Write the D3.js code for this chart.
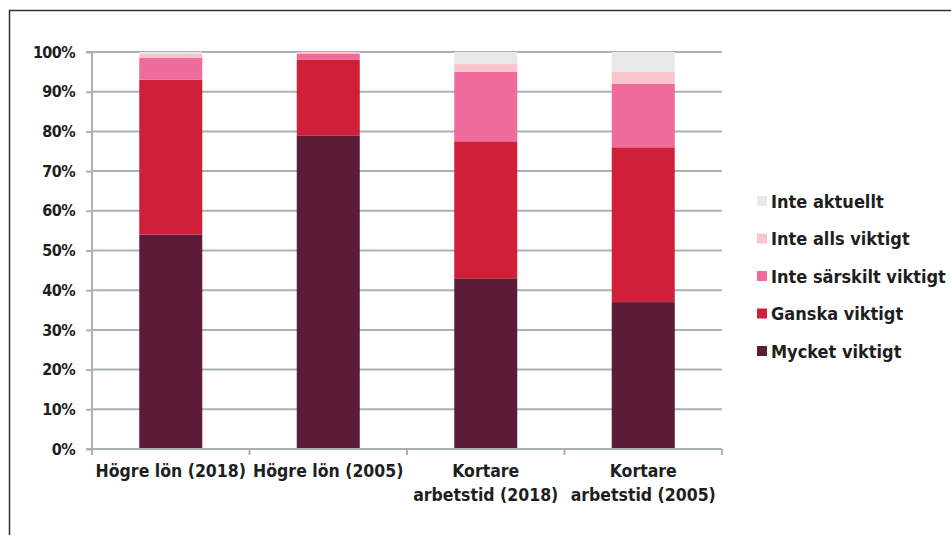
<!DOCTYPE html>
<html><head><meta charset="utf-8">
<script src="https://cdn.jsdelivr.net/npm/d3@7"></script>
<style>
body{margin:0;background:#fff;}
svg{display:block;}
text{font-family:"DejaVu Sans Condensed","DejaVu Sans",sans-serif;fill:#1e1e1e;}
</style></head><body>
<svg id="c" width="951" height="535"></svg>
<script>
const categories = [["Högre lön (2018)"],["Högre lön (2005)"],["Kortare","arbetstid (2018)"],["Kortare","arbetstid (2005)"]];
const seriesNames = ["Mycket viktigt","Ganska viktigt","Inte särskilt viktigt","Inte alls viktigt","Inte aktuellt"];
const mycket = [54, 79, 43, 37];
const ganska = [39, 19, 34.5, 39];
const sarskilt = [5.5, 1.5, 17.5, 16];
const alls = [1, 0.5, 2, 3];
const aktuellt = [0.5, 0, 3, 5];
const colors = ["#5c1b36","#d01f38","#ee6b9b","#f9c5cb","#e8e8e8"];
const yTicks = [0,10,20,30,40,50,60,70,80,90,100];

const svg = d3.select("#c");
// frame
svg.append("path").attr("d","M9.5,535 V10.5 H951").attr("fill","none").attr("stroke","#333").attr("stroke-width",1.5);

const x0 = 92, x1 = 722, yTop = 52, yBot = 449;
const x = d3.scaleBand().domain(d3.range(categories.length)).range([x0,x1]).paddingInner(0.6).paddingOuter(0.3);
const y = d3.scaleLinear().domain([0,100]).range([yBot,yTop]);

// gridlines
svg.append("g").selectAll("line").data(yTicks.filter(d=>d>0)).join("line")
  .attr("x1",x0).attr("x2",x1).attr("y1",d=>y(d)).attr("y2",d=>y(d))
  .attr("stroke","#a8b1b4").attr("stroke-width",2);

// y axis
const ya = svg.append("g").attr("transform",`translate(${x0},0)`)
  .call(d3.axisLeft(y).tickValues(yTicks).tickFormat(d=>d+"%").tickSize(6).tickPadding(11));
ya.select(".domain").attr("stroke","#a8b1b4").attr("stroke-width",2).attr("d",`M-6,${yTop}H0V${yBot}H-6`);
ya.selectAll(".tick line").attr("stroke","#a8b1b4").attr("stroke-width",2);
ya.selectAll(".tick text").attr("font-size",16).style("font-family","'DejaVu Sans Condensed'").attr("fill","#1e1e1e").attr("font-weight","bold").attr("letter-spacing","-0.6");

// stacked bars
const rows = categories.map((c,i)=>({i, v:[mycket[i],ganska[i],sarskilt[i],alls[i],aktuellt[i]]}));
const stack = d3.stack().keys(d3.range(5)).value((d,k)=>d.v[k]);
const layers = stack(rows);
svg.append("g").selectAll("g").data(layers).join("g").attr("fill",(d,k)=>colors[k])
  .selectAll("rect").data(d=>d).join("rect")
  .attr("x",d=>x(d.data.i)).attr("width",x.bandwidth())
  .attr("y",d=>y(d[1])).attr("height",d=>Math.max(0,y(d[0])-y(d[1])));

// x axis
const bounds = d3.range(categories.length+1).map(i=>x0+(x1-x0)*i/categories.length);
svg.append("line").attr("x1",x0).attr("x2",x1).attr("y1",yBot).attr("y2",yBot).attr("stroke","#a8b1b4").attr("stroke-width",2);
svg.append("g").selectAll("line").data(bounds).join("line")
  .attr("x1",d=>d).attr("x2",d=>d).attr("y1",yBot).attr("y2",yBot+6).attr("stroke","#a8b1b4").attr("stroke-width",2);
const xl = svg.append("g").selectAll("text").data(categories).join("text")
  .attr("text-anchor","middle").attr("font-size",17.5).attr("font-weight","bold")
  .attr("x",(d,i)=>x(i)+x.bandwidth()/2).attr("y",477);
xl.selectAll("tspan").data(d=>d).join("tspan").attr("x",function(){return this.parentNode.getAttribute("x");})
  .attr("dy",(d,j)=>j===0?0:24).text(d=>d);

// legend
const legOrder = [4,3,2,1,0];
const lg = svg.append("g").selectAll("g").data(legOrder).join("g")
  .attr("transform",(d,j)=>`translate(757,${201+j*37.5})`);
lg.append("rect").attr("x",0).attr("y",-5).attr("width",10).attr("height",10).attr("fill",d=>colors[d]);
lg.append("text").attr("x",14).attr("y",6.5).attr("font-size",18).attr("font-weight","bold").text(d=>seriesNames[d]);
</script></body></html>
